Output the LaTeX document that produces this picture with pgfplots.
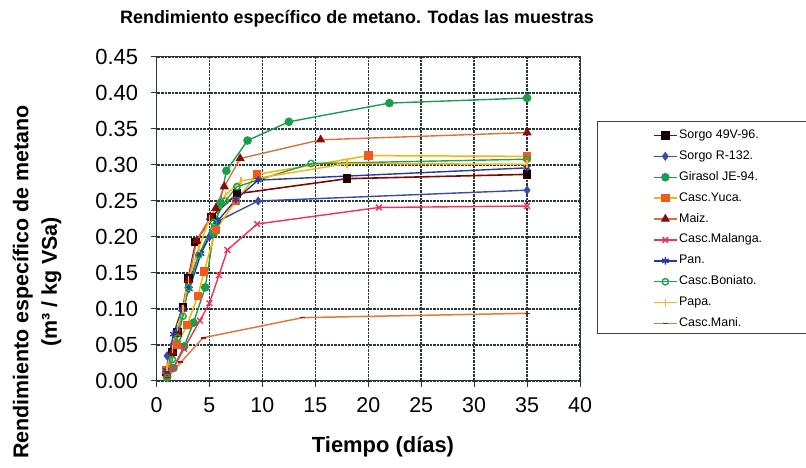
\documentclass[border=0pt]{standalone}
\usepackage{pgfplots}
\pgfplotsset{compat=1.18}
\usepackage{fontspec}
\setmainfont{Liberation Sans}
\usetikzlibrary{plotmarks}
\definecolor{sA}{HTML}{7A0A0A}
\definecolor{sAm}{HTML}{1A0000}
\definecolor{sB}{HTML}{3B4BA6}
\definecolor{gir}{HTML}{1A9E4A}
\definecolor{yucL}{HTML}{FFB300}
\definecolor{yucM}{HTML}{F05A1E}
\definecolor{maiL}{HTML}{D8733E}
\definecolor{maiM}{HTML}{8B0A0A}
\definecolor{mal}{HTML}{F2305A}
\definecolor{panc}{HTML}{2B3A9A}
\definecolor{bon}{HTML}{1AA64A}
\definecolor{papac}{HTML}{FFB020}
\definecolor{manL}{HTML}{E07A3A}
\definecolor{manM}{HTML}{A01010}
\definecolor{gridc}{HTML}{2A3838}
\begin{document}
\begin{tikzpicture}[x=1bp,y=1bp]
\begin{axis}[
  at={(156.5bp,87bp)}, anchor=south west,
  scale only axis, width=423.5bp, height=324bp,
  xmin=0, xmax=40, ymin=0, ymax=0.45,
  xtick={0,5,...,40}, ytick={0,0.05,...,0.45},
  xtick pos=bottom, ytick pos=left,
  axis line style={line width=1bp, color=gridc},
  tick align=outside, major tick length=6bp,
  tick style={line width=1bp, color=gridc},
  xmajorgrids=true, ymajorgrids=true,
  major grid style={densely dotted, line width=1.4bp, color=gridc},
  /pgf/number format/assume math mode=true,
  yticklabel style={font=\fontsize{22}{24}\selectfont, xshift=-9bp, /pgf/number format/.cd, fixed, fixed zerofill, precision=2},
  xticklabel style={font=\fontsize{21.5}{24}\selectfont, yshift=-7bp, /pgf/number format/.cd, fixed, precision=0},
  clip=false,
  legend cell align=left,
  legend image code/.code={\draw[mark repeat=2,mark phase=2,#1] plot coordinates {(0bp,0bp) (11.5bp,0bp) (23bp,0bp)};},
  legend style={draw=none, fill=none, at={(axis description cs:1.172,0.777)}, anchor=north west,
    font=\fontsize{12.5}{14}\selectfont, row sep=8.9bp, inner sep=0pt,
    nodes={inner xsep=1.5bp, inner ysep=0pt, text height=9bp, text depth=3bp}},
]
\addplot[color=sA, line width=1.6bp, mark=square*, mark size=3.5bp, mark options={fill=sAm, draw=sAm}] coordinates {
(0.9,0.013) (1.5,0.04) (2,0.068) (2.5,0.103) (3,0.142) (3.7,0.193) (5.2,0.228) (7.6,0.26) (18,0.281) (35,0.287)};
\addlegendentry{Sorgo 49V-96.}
\addplot[color=sB, line width=1.4bp, mark=diamond*, mark size=3.5bp, mark options={fill=sB}] coordinates {
(1,0.035) (1.5,0.05) (2,0.07) (2.5,0.1) (3,0.135) (4,0.175) (5,0.2) (5.8,0.222) (9.6,0.25) (35,0.265)};
\addlegendentry{Sorgo R-132.}
\addplot[color=gir, line width=1.4bp, mark=*, mark size=3.6bp, mark options={fill=gir}] coordinates {
(1,0.005) (1.6,0.018) (2.6,0.048) (3.5,0.081) (4.6,0.13) (5.4,0.205) (6,0.247) (6.6,0.292) (8.6,0.334) (12.5,0.36) (22,0.386) (35,0.393)};
\addlegendentry{Girasol JE-94.}
\addplot[color=yucL, line width=1.5bp, mark=square*, mark size=3.5bp, mark options={fill=yucM, draw=yucM}] coordinates {
(0.9,0.015) (1.9,0.05) (2.9,0.078) (3.9,0.118) (4.5,0.152) (5.6,0.21) (7.5,0.25) (9.5,0.287) (20,0.313) (35,0.312)};
\addlegendentry{Casc.Yuca.}
\addplot[color=maiL, line width=1.4bp, mark=triangle*, mark size=4bp, mark options={fill=maiM, draw=maiM}] coordinates {
(1,0.01) (1.5,0.04) (2,0.065) (2.5,0.1) (3,0.14) (3.8,0.195) (5.1,0.228) (5.6,0.24) (6.4,0.27) (7.9,0.309) (15.5,0.335) (35,0.345)};
\addlegendentry{Maiz.}
\addplot[color=mal, line width=1.4bp, mark=x, mark size=4bp] coordinates {
(1,0.005) (1.6,0.018) (2.6,0.045) (4.1,0.084) (5,0.108) (5.9,0.147) (6.7,0.182) (9.5,0.218) (21,0.241) (35,0.243)};
\addlegendentry{Casc.Malanga.}
\addplot[color=panc, line width=1.4bp, mark=asterisk, mark size=3.8bp] coordinates {
(0.9,0.015) (1.6,0.065) (2.4,0.1) (3.1,0.128) (4.2,0.177) (5.7,0.221) (7.5,0.252) (9.6,0.279) (35,0.296)};
\addlegendentry{Pan.}
\addplot[color=bon, line width=1.4bp, mark=o, mark size=3.2bp, mark options={fill=white}] coordinates {
(1,0.005) (1.5,0.03) (2,0.06) (2.5,0.09) (3,0.13) (4,0.175) (5.4,0.22) (6.5,0.25) (7.6,0.27) (14.6,0.302) (35,0.308)};
\addlegendentry{Casc.Boniato.}
\addplot[color=papac, line width=1.5bp, mark=|, mark size=4bp] coordinates {
(1,0.02) (1.5,0.045) (2,0.075) (2.5,0.1) (3,0.14) (4,0.185) (5,0.225) (6.5,0.258) (8,0.278) (18,0.302) (35,0.301)};
\addlegendentry{Papa.}
\addplot[color=manL, line width=1.5bp, mark=-, mark size=2.5bp, mark options={draw=manM, line width=1.6bp}] coordinates {
(1,0.005) (2.3,0.026) (4.4,0.06) (13.8,0.088) (35,0.094)};
\addlegendentry{Casc.Mani.}
\end{axis}
\draw[line width=1bp, color=black!75] (597,346) rectangle (830,134);
\node[font=\bfseries\fontsize{18}{20}\selectfont] at (357,449) {Rendimiento específico de metano. Todas las muestras};
\node[font=\bfseries\fontsize{22}{24}\selectfont] at (383,21) {Tiempo (días)};
\node[font=\bfseries\fontsize{21.5}{28.5}\selectfont, rotate=90, align=center] at (37,186) {Rendimiento específico de metano\\(m³ / kg VSa)};
\pgfresetboundingbox
\path (0,0) rectangle (806,468);
\end{tikzpicture}
\end{document}
